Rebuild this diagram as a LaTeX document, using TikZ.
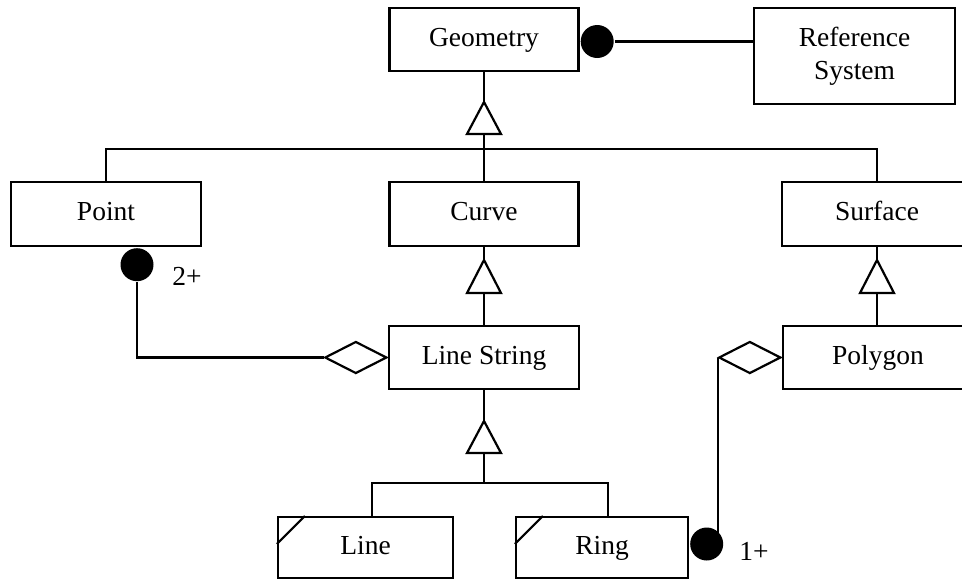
\documentclass[tikz,border=0pt]{standalone}
\usepackage{fontspec}
\setmainfont{Liberation Serif}
\usetikzlibrary{shapes.geometric}
\begin{document}
\begin{tikzpicture}[x=1pt,y=-1pt,
  line width=2.2pt,
  box/.style={draw,rectangle,inner sep=0pt,minimum width=#1,font=\fontsize{27.5}{33}\selectfont,align=center},
  onebox/.style={box=#1,text height=18pt,text depth=5pt},
  dot/.style={circle,fill=black,draw=none,inner sep=0pt,minimum size=33pt},
  agg/.style={draw,diamond,fill=white,inner sep=0pt,minimum width=62pt,minimum height=32pt},
  lbl/.style={font=\fontsize{27.5}{33}\selectfont,inner sep=0pt},
  gen/.style={draw,fill=white,line join=miter}]
\useasboundingbox (0,0) rectangle (962,579);
% boxes
\node[onebox=189pt,minimum height=63pt] (geom) at (484,39.5) {Geometry};
\node[box=201pt,minimum height=96pt] (ref) at (854.5,56) {Reference\\System};
\node[onebox=190pt,minimum height=64pt] (point) at (106,214) {Point};
\node[onebox=189pt,minimum height=64pt] (curve) at (484,214) {Curve};
\node[onebox=190pt,minimum height=64pt] (surf) at (877,214) {Surface};
\node[onebox=190pt,minimum height=63pt] (lstr) at (484,357.5) {Line String};
\node[onebox=190pt,minimum height=63pt] (poly) at (878,357.5) {Polygon};
\node[onebox=175pt,minimum height=61pt] (line) at (365.5,547.5) {Line};
\node[onebox=172pt,minimum height=61pt] (ring) at (602,547.5) {Ring};
\draw ([yshift=-28pt]line.north west) -- ([xshift=28pt]line.north west);
\draw ([yshift=-28pt]ring.north west) -- ([xshift=28pt]ring.north west);
% reference system association
\node[dot,anchor=west] (gdot) at ([yshift=-2pt]geom.east) {};
\draw (gdot.east) -- (gdot.east -| ref.west);
% generalization tree from Geometry
\coordinate (bus) at (484,149);
\coordinate (busL) at (point.north |- bus);
\coordinate (busR) at (surf.north |- bus);
\draw (geom.south) -- (bus);
\draw (point.north) -- (busL) -- (busR) -- (surf.north);
\draw (bus) -- (curve.north);
\draw[gen] (467,134) -- (484,102) -- (501,134) -- cycle;
% Curve -> Line String
\draw (curve.south) -- (lstr.north);
\draw[gen] (467,293) -- (484,260) -- (501,293) -- cycle;
% Surface -> Polygon
\draw (surf.south) -- (poly.north -| surf.south);
\draw[gen] (860,293) -- (877,260) -- (894,293) -- cycle;
% Line String -> Line, Ring
\coordinate (sbus) at (484,483);
\coordinate (sbusL) at (372,483);
\coordinate (sbusR) at (608,483);
\draw (lstr.south) -- (sbus);
\draw (sbusL |- line.north) -- (sbusL) -- (sbusR) -- (sbusR |- ring.north);
\draw[gen] (467,453) -- (484,421) -- (501,453) -- cycle;
% Point aggregation
\node[dot,anchor=north] (pdot) at ([xshift=31pt]point.south) {};
\node[agg,anchor=east] (ldiam) at (lstr.west) {};
\draw (pdot.south) |- (ldiam.west);
\node[lbl] (two) at (187,276) {2+};
% Ring aggregation
\node[agg,anchor=east] (pdiam) at (poly.west) {};
\node[dot,anchor=west] (rdot) at ([yshift=3.5pt]ring.east) {};
\draw (pdiam.west) -- (pdiam.west |- rdot.east);
\node[lbl] (one) at (754,551) {1+};
\end{tikzpicture}
\end{document}
